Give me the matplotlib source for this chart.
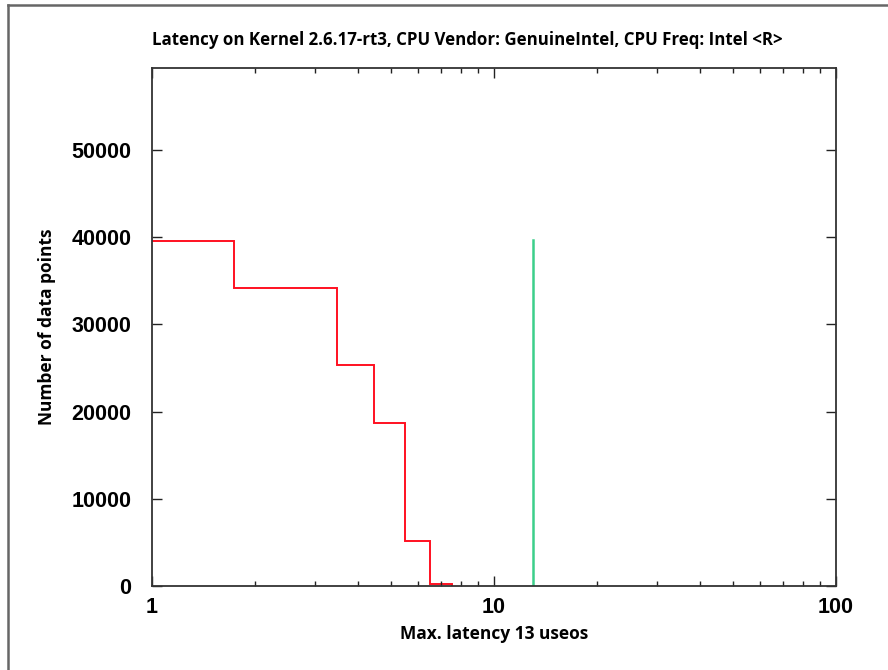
import numpy as np
import matplotlib
matplotlib.use("Agg")
import matplotlib.pyplot as plt
from matplotlib.lines import Line2D
from matplotlib.ticker import FixedLocator, LogLocator, NullFormatter

# histogram of latencies (usecs -> count)
latency = [1, 3, 4, 5, 6, 7]
counts = [39580, 34120, 25330, 18720, 5120, 230]
max_latency = 13
max_count = 39650

title = "Latency on Kernel 2.6.17-rt3, CPU Vendor: GenuineIntel, CPU Freq: Intel <R>"
xlabel = "Max. latency 13 useos"
ylabel = "Number of data points"
yticks = [0, 10000, 20000, 30000, 40000, 50000]
xticks = [1, 10, 100]

fig = plt.figure(figsize=(8.88, 6.70), dpi=100)
ax = fig.add_axes([152 / 888, 1 - 586 / 670, (836 - 152) / 888, (586 - 68) / 670])

# histeps on a log axis: bin edges at geometric midpoints
x = np.array(latency, dtype=float)
mids = np.sqrt(x[:-1] * x[1:])
edges = np.concatenate([[x[0] / np.sqrt(x[1] / x[0])], mids, [x[-1] * np.sqrt(x[-1] / x[-2])]])
ax.stairs(counts, edges, color="#ff1020", lw=1.4)

# max latency marker
ax.plot([max_latency, max_latency], [0, max_count], color="#3ccf8a", lw=1.8)

ax.set_xscale("log")
ax.set_xlim(1, 100)
ax.set_ylim(0, 59400)
ax.xaxis.set_major_locator(FixedLocator(xticks))
ax.xaxis.set_minor_locator(LogLocator(base=10, subs=np.arange(2, 10)))
ax.xaxis.set_minor_formatter(NullFormatter())
ax.set_xticks(xticks)
ax.set_xticklabels([str(v) for v in xticks])
ax.set_yticks(yticks)
ax.set_yticklabels([str(v) for v in yticks])

tick_font = dict(family="Liberation Sans", weight="bold", size=15.5)
for lab in ax.get_xticklabels() + ax.get_yticklabels():
    lab.set_fontfamily(tick_font["family"])
    lab.set_fontweight(tick_font["weight"])
    lab.set_fontsize(tick_font["size"])

ax.tick_params(which="both", direction="in", top=True, right=True, color="#222")
ax.tick_params(which="major", length=7, width=1.0)
ax.tick_params(which="minor", length=3.5, width=1.0)
ax.tick_params(axis="y", pad=15)
ax.tick_params(axis="x", pad=8)
for sp in ax.spines.values():
    sp.set_color("#333")
    sp.set_linewidth(1.3)

label_font = dict(family="Open Sans", weight="bold", size=12.5)
ax.set_xlabel(xlabel, labelpad=5, **label_font)
ax.set_ylabel(ylabel, labelpad=11, **label_font)
fig.text(467 / 888, 1 - 40 / 670, title, ha="center", va="center",
         family="Open Sans", weight="bold", size=12.2)

# outer frame (only top and left edges visible)
fig.add_artist(Line2D([8 / 888, 1.0], [1 - 5 / 670, 1 - 5 / 670], transform=fig.transFigure, color="#666", lw=1.8))
fig.add_artist(Line2D([8 / 888, 8 / 888], [0, 1 - 5 / 670], transform=fig.transFigure, color="#666", lw=1.8))

fig.savefig("out.png", dpi=100)
